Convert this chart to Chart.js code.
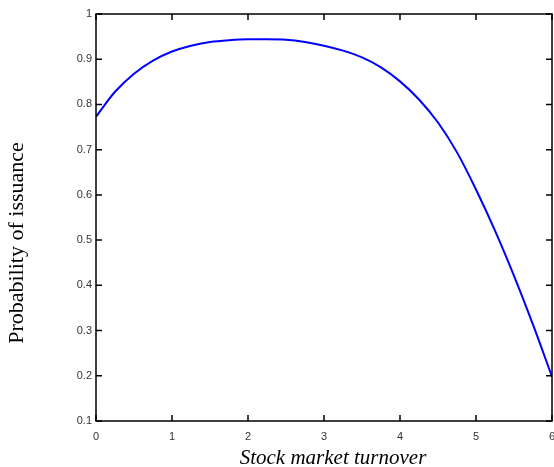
<!DOCTYPE html>
<html>
<head>
<meta charset="utf-8">
<script src="https://cdn.jsdelivr.net/npm/chart.js@4"></script>
<style>
    body { margin: 0; background: #fff; }
    #wrap { position: relative; width: 554px; height: 467px; }
</style>
</head>
<body>
<div id="wrap"><canvas id="issuanceChart"></canvas></div>
<script>
// values
var turnover = [0, 0.25, 0.5, 0.75, 1, 1.25, 1.5, 1.75, 2, 2.25, 2.5, 2.75, 3,
    3.25, 3.5, 3.75, 4, 4.25, 4.5, 4.75, 5, 5.25, 5.5, 5.75, 6];
var probability = [0.773, 0.828, 0.868, 0.897, 0.917, 0.930, 0.938, 0.942, 0.944, 0.944,
    0.943, 0.938, 0.930, 0.919, 0.904, 0.882, 0.851, 0.811, 0.760, 0.694, 0.612, 0.521,
    0.421, 0.313, 0.198];
var xTicks = [0, 1, 2, 3, 4, 5, 6];
var yTicks = [0.1, 0.2, 0.3, 0.4, 0.5, 0.6, 0.7, 0.8, 0.9, 1];
var xTitle = 'Stock market turnover';
var yTitle = 'Probability of issuance';

document.addEventListener("DOMContentLoaded", function () {
    var points = turnover.map(function (t, i) {
        return { x: t, y: probability[i] };
    });

    // matlab style box with inward ticks on every side, plus the axis titles
    var boxPlugin = {
        id: 'box',
        afterDraw: function (chart) {
            var ctx = chart.ctx;
            var a = chart.chartArea;
            var sx = chart.scales.x;
            var sy = chart.scales.y;
            var tl = 6;
            ctx.save();
            ctx.strokeStyle = '#000';
            ctx.lineWidth = 1.5;
            ctx.strokeRect(a.left, a.top, a.right - a.left, a.bottom - a.top);
            ctx.beginPath();
            xTicks.forEach(function (v) {
                var px = sx.getPixelForValue(v);
                ctx.moveTo(px, a.bottom); ctx.lineTo(px, a.bottom - tl);
                ctx.moveTo(px, a.top); ctx.lineTo(px, a.top + tl);
            });
            yTicks.forEach(function (v) {
                var py = sy.getPixelForValue(v);
                ctx.moveTo(a.left, py); ctx.lineTo(a.left + tl, py);
                ctx.moveTo(a.right, py); ctx.lineTo(a.right - tl, py);
            });
            ctx.stroke();

            ctx.fillStyle = '#000';
            ctx.textAlign = 'center';
            ctx.textBaseline = 'middle';
            ctx.font = 'italic 21px "Liberation Serif"';
            ctx.fillText(xTitle, 333, 458);
            ctx.translate(17, 243);
            ctx.rotate(-Math.PI / 2);
            ctx.font = '22px "Liberation Serif"';
            ctx.fillText(yTitle, 0, 0);
            ctx.restore();
        }
    };

    var ctxIssuance = document.getElementById('issuanceChart').getContext('2d');
    var issuanceChart = new Chart(ctxIssuance, {
        type: 'line',
        data: {
            datasets: [{
                data: points,
                borderColor: '#0000ff',
                borderWidth: 2,
                pointRadius: 0,
                cubicInterpolationMode: 'monotone',
                fill: false
            }]
        },
        options: {
            responsive: true,
            maintainAspectRatio: false,
            animation: false,
            layout: { padding: { top: 14, right: 2, left: 0, bottom: 0 } },
            plugins: {
                legend: { display: false },
                tooltip: { enabled: false }
            },
            scales: {
                x: {
                    type: 'linear',
                    min: 0,
                    max: 6,
                    afterFit: function (scale) {
                        scale.height = 46;
                        scale.paddingLeft = 0;
                        scale.paddingRight = 0;
                    },
                    afterBuildTicks: function (scale) {
                        scale.ticks = xTicks.map(function (v) { return { value: v }; });
                    },
                    grid: { display: false, drawTicks: false },
                    border: { display: false },
                    ticks: {
                        padding: 9,
                        maxRotation: 0,
                        autoSkip: false,
                        color: '#333',
                        font: { family: 'Arial, "Liberation Sans"', size: 11 }
                    }
                },
                y: {
                    min: 0.1,
                    max: 1,
                    afterFit: function (scale) {
                        scale.width = 96;
                        scale.paddingTop = 0;
                        scale.paddingBottom = 0;
                    },
                    afterBuildTicks: function (scale) {
                        scale.ticks = yTicks.map(function (v) { return { value: v }; });
                    },
                    grid: { display: false, drawTicks: false },
                    border: { display: false },
                    ticks: {
                        padding: 4,
                        autoSkip: false,
                        color: '#333',
                        font: { family: 'Arial, "Liberation Sans"', size: 11 },
                        callback: function (v) { return String(Math.round(v * 10) / 10); }
                    }
                }
            }
        },
        plugins: [boxPlugin]
    });
});
</script>
</body>
</html>
